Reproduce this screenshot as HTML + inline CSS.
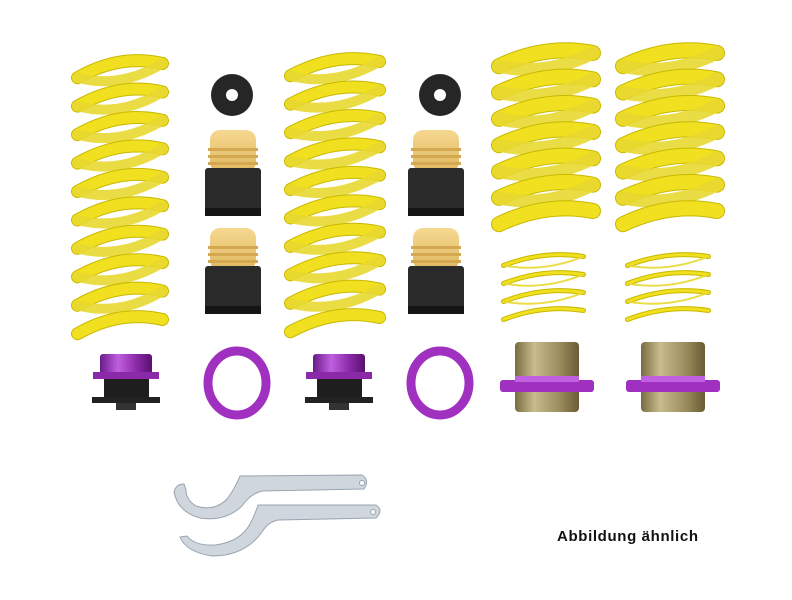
<!DOCTYPE html>
<html><head><meta charset="utf-8"><style>
html,body{margin:0;padding:0;background:#fff;width:792px;height:600px;overflow:hidden}
</style></head><body>
<svg id="s" width="792" height="600" viewBox="0 0 792 600" xmlns="http://www.w3.org/2000/svg">
<defs>
<linearGradient id="p" x1="0" y1="0" x2="1" y2="0"><stop offset="0" stop-color="#6a1a8a"/><stop offset="0.35" stop-color="#c060e0"/><stop offset="0.7" stop-color="#8a2aa8"/><stop offset="1" stop-color="#5a1070"/></linearGradient>
<linearGradient id="b" x1="0" y1="0" x2="1" y2="0"><stop offset="0" stop-color="#7a6c40"/><stop offset="0.3" stop-color="#c8bc8c"/><stop offset="0.7" stop-color="#9a8c5c"/><stop offset="1" stop-color="#6a5c34"/></linearGradient>
<linearGradient id="t" x1="0" y1="0" x2="0" y2="1"><stop offset="0" stop-color="#f5d890"/><stop offset="1" stop-color="#e0b860"/></linearGradient>
</defs>
<g id="springs"></g>
<g id="parts"></g>
<g fill="#cfd6de" stroke="#9aa4ae" stroke-width="1">
<path d="M240,476 L362,475 Q370,480 364,489 L262,491 Q250,494 242,506 Q225,522 200,518 Q178,512 174,492 Q176,484 184,484 L186,490 Q186,500 196,506 Q215,512 228,498 Q236,486 240,476 Z"/>
<path d="M258,505 L376,505 Q384,510 376,518 L278,520 Q268,522 262,532 Q245,556 212,556 Q186,552 180,537 L187,536 Q195,546 215,545 Q240,542 250,524 Q256,512 258,505 Z"/>
<circle cx="362" cy="483" r="2.5" fill="#fff"/><circle cx="373" cy="512" r="2.5" fill="#fff"/>
</g>
<text x="557" y="541" font-family="Liberation Sans, sans-serif" font-weight="bold" font-size="15" textLength="141" fill="#111">Abbildung ähnlich</text>
</svg>
<script>
var NS="http://www.w3.org/2000/svg";
function el(par,tag,a){var e=document.createElementNS(NS,tag);for(var k in a)e.setAttribute(k,a[k]);document.getElementById(par).appendChild(e);return e;}
function spring(x0,x1,y0,y1,n,w){
 var cx=(x0+x1)/2,rx=(x1-x0)/2-w/2,p=(y1-y0-w)/n;
 for(var i=0;i<=n;i++){var y=y0+w/2+i*p;
  var d="M"+(cx-rx)+","+(y+p*0.5)+" Q"+cx+","+(y-p*0.35)+" "+(cx+rx)+","+y;
  el("springs","path",{d:d,fill:"none",stroke:"#c8b800","stroke-width":w+2,"stroke-linecap":"round"});
  el("springs","path",{d:d,fill:"none",stroke:"#f0e020","stroke-width":w,"stroke-linecap":"round"});
  if(i<n){var d2="M"+(cx+rx)+","+y+" Q"+cx+","+(y+p*0.9)+" "+(cx-rx)+","+(y+p*0.5);
  el("springs","path",{d:d2,fill:"none",stroke:"#e8d830","stroke-width":w-1,"stroke-linecap":"round",opacity:"0.9"});}
 }
}
spring(72,168,58,325,9,11);
spring(285,385,56,323,9,11);
spring(492,600,46,218,6,14);
spring(616,724,46,218,6,14);
spring(502,585,255,312,3,3);
spring(626,710,255,312,3,3);
function bump(cx,dy){
 el("parts","rect",{x:cx-23,y:130+dy,width:46,height:42,rx:10,fill:"url(#t)"});
 for(var i=0;i<3;i++)el("parts","rect",{x:cx-25,y:148+dy+i*7,width:50,height:3,fill:"#d4a850"});
 el("parts","rect",{x:cx-28,y:168+dy,width:56,height:48,rx:3,fill:"#2a2a2a"});
 el("parts","rect",{x:cx-28,y:208+dy,width:56,height:8,fill:"#151515"});
}
function cap(cx){el("parts","circle",{cx:cx,cy:95,r:21,fill:"#262626"});el("parts","circle",{cx:cx,cy:95,r:6,fill:"#fff"});}
function ring(cx){el("parts","ellipse",{cx:cx,cy:383,rx:29,ry:32,fill:"none",stroke:"#a030c0","stroke-width":9});}
function adj(cx){
 el("parts","rect",{x:cx-26,y:354,width:52,height:20,rx:3,fill:"url(#p)"});
 el("parts","rect",{x:cx-33,y:372,width:66,height:7,fill:"#8a2aa8"});
 el("parts","rect",{x:cx-22,y:379,width:45,height:19,fill:"#1e1e1e"});
 el("parts","rect",{x:cx-34,y:397,width:68,height:6,fill:"#222"});
 el("parts","rect",{x:cx-10,y:403,width:20,height:7,fill:"#333"});
}
function sleeve(cx){
 el("parts","rect",{x:cx-32,y:342,width:64,height:70,rx:4,fill:"url(#b)"});
 el("parts","rect",{x:cx-47,y:380,width:94,height:12,rx:3,fill:"#a030c0"});
 el("parts","rect",{x:cx-32,y:376,width:64,height:6,fill:"#c060e0"});
}
cap(232);cap(440);
bump(233,0);bump(233,98);bump(436,0);bump(436,98);
ring(237);ring(440);
adj(126);adj(339);
sleeve(547);sleeve(673);
</script>
</body></html>
